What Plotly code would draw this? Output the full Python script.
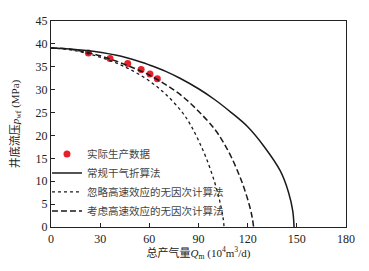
import plotly.graph_objects as go

# measured production data
q_data = [22.8, 36.0, 46.8, 55.0, 60.4, 64.9]
p_data = [38.0, 36.8, 35.7, 34.4, 33.4, 32.4]

# conventional dry-gas conversion method (solid)
q_solid = [0, 20, 40, 54.3, 60, 70, 78.7, 90, 100, 110, 120, 130, 140, 145, 147.5, 148.3]
p_solid = [39.1, 38.6, 37.5, 36.1, 35.4, 34.0, 32.5, 30.2, 27.8, 25.0, 21.9, 17.6, 12.2, 7.5, 3.5, 0.0]

# dimensionless method ignoring high-velocity effect (dotted)
q_dot = [0, 10, 20, 30, 40, 50, 60, 70, 80, 85, 90, 95, 100, 103, 105, 105.6]
p_dot = [39.1, 38.8, 38.1, 37.1, 35.8, 34.1, 31.9, 29.0, 25.1, 22.4, 18.9, 14.8, 9.6, 5.6, 2.0, 0.0]

# dimensionless method considering high-velocity effect (dashed)
q_dash = [0, 10, 20, 30, 40, 50, 60, 70, 80, 90, 100, 105, 110, 115, 118, 121, 122.8, 123.6]
p_dash = [39.1, 38.9, 38.3, 37.4, 36.2, 34.8, 33.2, 31.1, 28.6, 25.3, 21.3, 18.6, 15.3, 11.2, 8.3, 4.8, 2.0, 0.0]

x_ticks = [0, 30, 60, 90, 120, 150, 180]
y_ticks = [0, 5, 10, 15, 20, 25, 30, 35, 40, 45]

names = ["实际生产数据", "常规干气折算法", "忽略高速效应的无因次计算法", "考虑高速效应的无因次计算法"]

FONT = '"Liberation Serif", "Times New Roman", "Noto Sans CJK SC", serif'

fig = go.Figure()
fig.add_trace(go.Scatter(x=q_data, y=p_data, mode="markers", name=names[0],
                         marker=dict(color="#e8202a", size=7)))
fig.add_trace(go.Scatter(x=q_solid, y=p_solid, mode="lines", name=names[1],
                         line=dict(color="#1a1a1a", width=1.5, shape="spline")))
fig.add_trace(go.Scatter(x=q_dot, y=p_dot, mode="lines", name=names[2],
                         line=dict(color="#1a1a1a", width=1.3, dash="dot", shape="spline")))
fig.add_trace(go.Scatter(x=q_dash, y=p_dash, mode="lines", name=names[3],
                         line=dict(color="#1a1a1a", width=1.5, dash="6px,3px", shape="spline")))

axis_common = dict(showline=True, linecolor="#222", linewidth=1.2, mirror=True,
                   ticks="inside", ticklen=4, tickcolor="#222", showgrid=False,
                   zeroline=False, automargin=False,
                   tickfont=dict(family=FONT, size=12, color="#222"))

fig.update_layout(
    width=369, height=271,
    margin=dict(l=43, r=31, t=13, b=52),
    paper_bgcolor="white", plot_bgcolor="white",
    font=dict(family=FONT, color="#222"),
    xaxis=dict(range=[0, 180], tickvals=x_ticks, ticktext=[str(v) for v in x_ticks],
               title=dict(text="总产气量<i>Q</i><sub>m</sub> (10<sup>4</sup>m<sup>3</sup>/d)",
                          font=dict(family=FONT, size=11, color="#222"), standoff=1),
               **axis_common),
    yaxis=dict(range=[0, 45], tickvals=y_ticks, ticktext=[str(v) for v in y_ticks],
               title=dict(text="井底流压<i>p</i><sub>wf</sub> (MPa)",
                          font=dict(family=FONT, size=11, color="#222"), standoff=16),
               **axis_common),
    legend=dict(x=-0.0136, y=0.425, xanchor="left", yanchor="top",
                bgcolor="rgba(0,0,0,0)", itemwidth=30, tracegroupgap=0,
                font=dict(family=FONT, size=10.5, color="#444")),
    showlegend=True,
)

fig.write_html("out.html")
